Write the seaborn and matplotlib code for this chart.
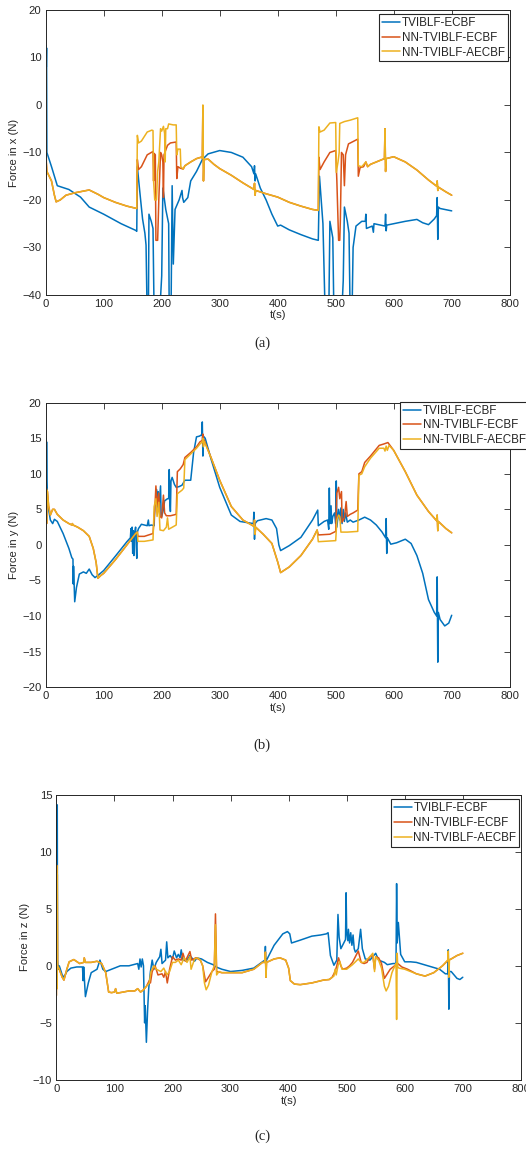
import matplotlib
matplotlib.use("Agg")
import matplotlib.pyplot as plt
import seaborn as sns

# ---- data (t in s, force in N) ----
series_names = ["TVIBLF-ECBF", "NN-TVIBLF-ECBF", "NN-TVIBLF-AECBF"]
series_colors = ["#0072BD", "#D95319", "#EDB120"]

# Force in x
fx_tvi = [(0,-17),(0.5,12.5),(1,8),(1.5,12),(2,-10),(10,-13),(20,-17),(40,-17.8),(60,-19.4),(75,-21.5),
          (100,-23),(130,-25),(155,-26.4),(157,-26.6),(158,-13),(162,-18),(167,-24),(171,-27),(173,-29.5),
          (175,-45),(177,-45),(178,-23),(182,-24.5),(185,-26),(187,-45),(196,-45),(200,-36),(202,-17.5),
          (207,-22),(212,-25),(213,-45),(216,-45),(218,-17),(220,-33.5),(223,-22),(230,-20),(235,-18),
          (236,-19.5),(238,-20.5),(245,-19.5),(250,-16),(260,-14),(270,-11.5),(280,-10.3),(300,-9.6),
          (320,-10),(340,-11),(355,-13),(359,-14.5),(360,-12.8),(361,-16),(362,-14.5),(370,-17.5),
          (380,-20),(390,-23),(400,-25.5),(405,-25.3),(420,-26.3),(440,-27.3),(460,-28.2),(470,-28.5),
          (472,-15),(478,-25),(482,-45),(488,-45),(490,-24.5),(495,-28),(497,-45),(510,-45),(513,-37),
          (515,-21.5),(520,-24.5),(523,-27),(525,-45),(528,-45),(530,-30),(535,-25.5),(545,-24.5),
          (551,-24.5),(552,-23),(553,-26),(557,-25.8),(563,-25.5),(565,-26.8),(566,-25),(585,-25.5),
          (586,-23),(587,-26.5),(588,-25.3),(600,-25),(620,-24.5),(640,-24.1),(650,-24.8),(660,-25.2),
          (670,-24),(674,-23.3),(675,-19.5),(676,-28.3),(677,-21.5),(680,-21.8),(700,-22.3)]
fx_nn = [(0,-17),(0.5,7.5),(1,-12),(2,-14),(10,-16),(15,-19),(18,-20.4),(25,-20),(35,-19),(50,-18.5),
         (75,-17.9),(90,-18.8),(100,-19.5),(120,-20.5),(140,-21.3),(157,-21.8),(158,-11.5),(160,-13.6),
         (165,-13),(175,-10.5),(185,-9.8),(186,-16),(187,-10.2),(189,-10.5),(190,-28.5),(193,-28.5),
         (195,-20),(198,-10),(200,-10.5),(202,-12),(203,-19.5),(204,-10.5),(210,-8.5),(215,-8),
         (225,-7.8),(226,-15.5),(228,-13),(232,-13.3),(237,-13.5),(240,-12.8),(250,-12),(260,-11.3),
         (268,-11),(270,-11.2),(271,-0.2),(272,-16),(273,-11.5),(280,-11.4),(290,-12.5),(300,-13.4),
         (320,-14.8),(340,-16.4),(355,-17.5),(359,-17.8),(360,-16.5),(361,-19),(362,-18),(380,-18.7),
         (400,-19.4),(420,-20.5),(440,-21.3),(460,-22),(470,-22.2),(471,-11),(473,-13.6),(480,-12),
         (490,-10),(500,-9.6),(502,-16),(505,-28.5),(507,-28.5),(508,-24.5),(510,-10),(513,-10.5),
         (515,-17),(517,-10.5),(522,-8.2),(530,-7.7),(538,-7.2),(539,-15),(542,-13.2),(548,-13),
         (552,-12),(555,-13),(560,-12.5),(570,-12),(580,-11.5),(584,-11.3),(585,-5),(586,-14),
         (587,-11.3),(600,-10.9),(620,-12),(640,-13.7),(660,-15.8),(674,-17.1),(675,-16),(676,-18),
         (677,-17.3),(690,-18.3),(700,-19)]
fx_nna = [(0,-17),(0.5,7.5),(1,-12),(2,-14),(10,-16),(15,-19),(18,-20.4),(25,-20),(35,-19),(50,-18.5),
          (75,-17.9),(90,-18.8),(100,-19.5),(120,-20.5),(140,-21.3),(157,-21.8),(158,-6.4),(160,-8),
          (165,-7.6),(175,-5.7),(183,-5.3),(185,-5.4),(186,-16),(188,-20),(191,-20),(193,-14),(195,-12),
          (198,-5),(200,-5.5),(203,-4.5),(205,-6),(206,-12),(207,-5),(210,-5),(212,-4),(220,-4.2),
          (225,-4.2),(226,-10.5),(228,-9.3),(232,-9.3),(233,-13),(237,-13.5),(240,-12.8),(250,-12),
          (260,-11.3),(268,-11),(270,-11.2),(271,0),(272,-16),(273,-11.5),(280,-11.4),(290,-12.5),
          (300,-13.4),(320,-14.8),(340,-16.4),(355,-17.5),(359,-17.8),(360,-16.5),(361,-19),(362,-18),
          (380,-18.7),(400,-19.4),(420,-20.5),(440,-21.3),(460,-22),(470,-22.2),(471,-4.6),(473,-5.7),
          (480,-5.3),(490,-3.8),(500,-3.7),(501,-14.2),(504,-12),(506,-10),(507,-3.9),(515,-3.5),
          (525,-3.2),(538,-2.7),(539,-12.8),(545,-13),(552,-12),(555,-13),(560,-12.5),(570,-12),
          (580,-11.5),(584,-11.3),(585,-5),(586,-14),(587,-11.3),(600,-10.9),(620,-12),(640,-13.7),
          (660,-15.8),(674,-17.1),(675,-16),(676,-18),(677,-17.3),(690,-18.3),(700,-19)]

# Force in y
fy_tvi = [(0,8),(0.5,15),(1,3),(1.5,14.5),(2,9),(3,6),(5,5),(8,3.5),(12,3),(15,3.6),(20,3.3),(30,1.6),
          (40,-0.5),(45,-1.8),(47,-2),(47.5,-5.5),(48,-3),(50,-8),(53,-6),(58,-4.1),(65,-3.8),(70,-4),
          (75,-3.4),(80,-4.2),(85,-4.6),(90,-4.3),(100,-3.6),(120,-1.6),(140,0.45),(146,1),(147,2.3),
          (148,0.5),(149,2.5),(150,-1.2),(151,2),(152,-1.5),(153,1.5),(155,2.5),(156,0),(157,-1.9),
          (158,1.8),(160,2.3),(165,2.9),(175,2.7),(177,3.5),(178,2.7),(182,2.8),(187,2.7),(188,5.5),
          (190,5.8),(191,7.8),(192,5),(194,7.5),(195,5),(198,8.3),(199,4),(200,4),(203,5),(205,6.2),
          (210,6.5),(212,6.5),(213,10.6),(214,6),(215,4.7),(216,9),(218,9.5),(222,8.5),(225,8.1),
          (230,8.2),(235,8.4),(240,9.1),(250,9.1),(255,13),(260,15.2),(265,15.3),(269,15.5),(270,17.3),
          (271,12.5),(272,15.3),(275,15),(285,12.1),(300,8.1),(320,4.2),(335,3.3),(350,3.1),(358,3),
          (359,4.6),(360,0.8),(361,3),(365,3.4),(380,3.7),(390,3.5),(398,2.3),(402,0),(405,-0.8),
          (420,-0.1),(440,1.06),(460,3.5),(469,4.9),(470,2.7),(480,3.3),(486,3.5),(488,2.2),(489,8),
          (490,3),(492,5.5),(493,3),(495,4),(498,4.5),(500,3),(501,9),(502,2.5),(505,5),(507,3.5),
          (509,5.2),(511,3),(513,5),(515,3.3),(517,4.5),(520,3.2),(525,3.5),(530,3.2),(540,3.5),
          (550,3.9),(560,3.5),(570,2.8),(580,1.8),(586,1),(587,3.7),(588,-1.2),(589,1),(595,0.1),
          (605,0.3),(620,0.8),(630,0.2),(640,-1.5),(650,-4),(660,-7.7),(670,-9.5),(674,-10),(675,-4.5),
          (676,-16.5),(677,-9.5),(680,-10.5),(688,-11.4),(695,-11),(700,-9.9)]
fy_nn = [(0,8.5),(0.5,3),(1,8),(1.5,3),(2,7.7),(3,7.5),(5,5.5),(8,4.2),(12,5),(15,5),(20,4.3),(30,3.5),
         (40,3),(45,2.8),(46,3),(47,2.8),(55,2.5),(65,2),(75,1.2),(82,-0.5),(87,-2.5),(90,-4.7),(95,-4.3),
         (100,-4),(120,-2.1),(140,0),(155,1.6),(158,1.8),(159,1.2),(170,1.2),(185,1.6),(188,4.8),
         (190,8.3),(192,5.5),(195,7.3),(197,4),(200,3.8),(203,7),(205,4.5),(208,4.1),(215,4.1),
         (220,4.2),(225,4.3),(227,10.3),(232,10.7),(237,11.3),(240,12.3),(250,13),(260,13.8),(266,14.5),
         (270,14.7),(271,15.6),(272,14),(273,14.8),(285,12.3),(300,9.1),(320,5.4),(340,3.5),(355,2.8),
         (359,2.6),(360,3.5),(361,1.5),(362,2.5),(375,1.5),(390,0.2),(400,-2.4),(405,-3.9),(420,-3.1),
         (440,-1.5),(460,0.8),(468,2.1),(470,1.4),(490,1.5),(500,1.9),(502,7.3),(505,8.1),(507,6.5),
         (510,7.5),(511,3.2),(515,3.8),(518,6.1),(520,4),(525,4.3),(530,4.5),(538,4.9),(540,10),
         (545,10.3),(550,11.6),(560,12.5),(575,14),(583,14.2),(590,14.4),(600,13.3),(620,10.3),(640,7),
         (660,4.7),(674,3.4),(675,4.2),(676,2),(677,3.3),(690,2.3),(700,1.7)]
fy_nna = [(0,8.5),(0.5,3),(1,8),(1.5,3),(2,7.7),(3,7.5),(5,5.5),(8,4.2),(12,5),(15,5),(20,4.3),(30,3.5),
          (40,3),(45,2.8),(46,3),(47,2.8),(55,2.5),(65,2),(75,1.2),(82,-0.5),(87,-2.5),(90,-4.7),(95,-4.3),
          (100,-4),(120,-2.1),(140,0),(155,1.6),(158,1.8),(159,0.5),(170,0.5),(185,0.7),(187,5.4),
          (190,6.5),(192,4),(195,6),(197,2.1),(203,2),(208,2.5),(210,3.8),(212,2.2),(225,2.8),(227,7.2),
          (235,7.7),(238,8),(240,12),(250,12.8),(260,13.6),(266,14.2),(270,14.5),(271,15),(272,13.8),
          (273,14.6),(285,12.3),(300,9.1),(320,5.4),(340,3.5),(355,2.8),(359,2.6),(360,3.5),(361,1.5),
          (362,2.5),(375,1.5),(390,0.2),(400,-2.4),(405,-3.9),(420,-3.1),(440,-1.5),(460,0.8),(468,2.1),
          (470,0.45),(500,0.6),(502,3.5),(505,4.2),(507,4),(509,1.8),(520,1.8),(538,1.9),(540,9.8),
          (545,10),(550,11),(560,12.2),(575,13.6),(583,13.6),(585,13.2),(587,13.9),(589,13.3),(592,14),
          (600,13.3),(620,10.3),(640,7),(660,4.7),(674,3.4),(675,4.2),(676,2),(677,3.3),(690,2.3),(700,1.7)]

# Force in z
fz_tvi = [(0,0),(0.5,14),(1,9),(1.5,14.1),(2,0.5),(3,-0.3),(5,0),(10,-0.8),(13,-1),(18,-0.5),(25,-0.2),
          (35,-0.1),(45,-0.1),(46,-1.3),(47,-0.1),(50,-2.7),(55,-1.5),(60,-0.6),(70,-0.3),(75,0.5),
          (80,-0.3),(85,-0.5),(95,-0.3),(110,0),(125,0),(140,0.2),(142,-0.3),(144,0.6),(146,-0.1),
          (148,0.6),(150,0),(152,-5),(153,-3.5),(155,-6.7),(157,-4),(159,-2),(162,-0.5),(165,0.5),
          (168,-0.3),(172,0.3),(178,0.8),(180,1.45),(182,0.2),(188,0.5),(190,2.1),(192,0.7),(196,0.9),
          (200,0.6),(203,1.3),(207,0.7),(210,1),(213,0.7),(215,1.4),(218,0.5),(225,0.5),(230,0.9),
          (238,0.4),(242,0.7),(250,0.6),(260,0.3),(270,0.1),(275,-0.1),(285,-0.3),(300,-0.5),(320,-0.4),
          (340,-0.2),(355,0.35),(359,0.5),(360,1.7),(361,0),(362,0.5),(375,1.8),(390,2.8),(398,3),
          (402,2.8),(405,2),(420,2.25),(440,2.6),(455,2.7),(465,2.8),(468,2.9),(472,0.9),(478,0.05),
          (483,0.5),(485,4.5),(487,2.5),(490,1.5),(495,2),(498,2.3),(499,6.4),(500,3),(502,2.2),(503,3.2),
          (505,2),(507,2.9),(509,1.8),(511,2.7),(513,1.5),(515,1.2),(520,1.5),(524,3.2),(527,1.5),
          (532,0.6),(540,0.5),(545,0.8),(550,1.1),(555,0.5),(565,0.3),(570,0.1),(580,0.2),(585,0.2),
          (586,7.2),(587,2),(589,3.8),(593,1),(600,0.35),(610,0.35),(620,0.3),(640,0),(660,-0.3),
          (670,-0.7),(674,-0.7),(675,1.4),(676,-3.8),(677,-0.5),(680,-0.5),(690,-1.1),(695,-1.2),(700,-1)]
fz_nn = [(0,-2.6),(0.5,8.8),(1,-2),(1.5,8),(2,0),(5,-0.3),(10,-1),(13,-1.25),(18,-0.3),(22,0.35),
         (30,0.55),(40,0.2),(47,0.3),(48,0.7),(50,0.3),(60,0.3),(70,0.4),(78,0.2),(85,-0.6),(90,-2.3),
         (95,-2.35),(100,-2.3),(102,-2),(104,-2.4),(115,-2.3),(125,-2.2),(135,-2.2),(140,-2),(145,-2.3),
         (150,-2.1),(155,-1.8),(160,-1.3),(162,-1.5),(165,-0.5),(170,0),(175,-0.8),(182,-0.7),(185,-1),
         (188,-0.5),(191,-1.5),(195,-0.3),(200,0.8),(205,0.5),(210,0.6),(215,0.5),(218,1.1),(222,0.4),
         (230,1.25),(233,0.5),(240,0.7),(248,0.5),(252,0),(257,-1.4),(262,-1),(268,-0.5),(272,-0.3),
         (274,4.55),(276,-0.5),(285,-0.6),(300,-0.6),(320,-0.6),(340,-0.3),(355,0.3),(359,0.3),(360,1.2),
         (361,-1),(362,0.3),(375,0.6),(385,0.7),(395,0.5),(400,-0.2),(403,-1.3),(410,-1.6),(420,-1.65),
         (440,-1.5),(460,-1.25),(470,-1.2),(475,-1),(480,-0.5),(483,0),(486,0.7),(490,0),(493,-0.3),
         (500,-0.2),(505,0),(510,0.3),(515,0.8),(520,1.3),(525,0.3),(530,0.2),(535,0.3),(540,0.8),
         (545,0.9),(548,-0.3),(550,0.8),(555,0.7),(560,0.2),(565,-1.1),(570,-0.7),(575,-0.3),(580,-0.1),
         (585,0.1),(588,0.2),(595,-0.1),(605,-0.3),(620,-0.7),(635,-0.9),(650,-0.6),(665,0),(675,0.5),
         (680,0.6),(690,0.9),(700,1.1)]
fz_nna = [(0,-2.6),(0.5,8.8),(1,-2),(1.5,8),(2,0),(5,-0.3),(10,-1),(13,-1.25),(18,-0.3),(22,0.35),
          (30,0.55),(40,0.2),(47,0.3),(48,0.7),(50,0.3),(60,0.3),(70,0.4),(78,0.2),(85,-0.6),(90,-2.3),
          (95,-2.35),(100,-2.3),(102,-2),(104,-2.4),(115,-2.3),(125,-2.2),(135,-2.2),(140,-2),(145,-2.3),
          (150,-2.1),(155,-1.8),(160,-1.5),(163,-0.5),(168,0),(172,-0.3),(180,-0.5),(185,-0.2),(190,-0.8),
          (195,-0.5),(200,0.3),(205,0.3),(210,0.5),(215,0.1),(220,0.7),(225,0.3),(230,0.8),(232,-0.3),
          (238,0.6),(243,0.7),(248,0.5),(252,0),(255,-1.5),(258,-2.1),(262,-1.7),(268,-0.5),(272,0),
          (274,3.6),(276,-0.8),(280,-0.5),(285,-0.6),(300,-0.6),(320,-0.6),(340,-0.3),(355,0.3),(359,0.3),
          (360,1.2),(361,-1),(362,0.3),(375,0.6),(385,0.7),(395,0.5),(400,-0.2),(403,-1.3),(410,-1.6),
          (420,-1.65),(440,-1.5),(460,-1.25),(470,-1.2),(478,-0.9),(480,-0.3),(482,-0.8),(485,0),(488,0.4),
          (492,-0.3),(500,-0.3),(510,0.1),(520,0.6),(525,0.3),(530,0.3),(540,0.8),(545,1.1),(548,-0.5),
          (550,0.8),(555,0.5),(560,-0.2),(565,-1.8),(568,-2.2),(572,-1.8),(578,-0.6),(583,0),(585,0.2),
          (586,-4.7),(587,1.1),(588,-0.1),(590,-0.2),(600,-0.3),(620,-0.7),(635,-0.9),(650,-0.6),(665,0),
          (674,0.5),(675,1.3),(676,-1),(677,0.5),(680,0.6),(690,0.9),(700,1.1)]

panels = [
    dict(data=[fx_tvi, fx_nn, fx_nna], ylabel="Force in x (N)", ylim=(-40, 20), ystep=10,
         rect=[0.0869, 0.7453, 0.8821, 0.2461], leg=(0.7205, 0.9879), cap="(a)", capy=0.7038),
    dict(data=[fy_tvi, fy_nn, fy_nna], ylabel="Force in y (N)", ylim=(-20, 20), ystep=5,
         rect=[0.0869, 0.4067, 0.8821, 0.2455], leg=(0.7605, 0.6531), cap="(b)", capy=0.3567),
    dict(data=[fz_tvi, fz_nn, fz_nna], ylabel="Force in z (N)", ylim=(-10, 15), ystep=5,
         rect=[0.1072, 0.0674, 0.8830, 0.2464], leg=(0.7428, 0.3098), cap="(c)", capy=0.0190),
]

sns.set_style("white")
plt.rcParams["font.family"] = ["Liberation Sans", "DejaVu Sans"]

fig = plt.figure(figsize=(5.26, 11.58), dpi=100)
fs = 8.1

for p in panels:
    ax = fig.add_axes(p["rect"])
    for pts, name, col in zip(p["data"], series_names, series_colors):
        t = [a for a, b in pts]
        v = [b for a, b in pts]
        sns.lineplot(x=t, y=v, ax=ax, color=col, linewidth=1.1, estimator=None, sort=False, label=name)
    ax.set_xlim(0, 800)
    ax.set_ylim(*p["ylim"])
    ax.set_xticks(range(0, 801, 100))
    lo, hi = p["ylim"]
    ax.set_yticks(range(lo, hi + 1, p["ystep"]))
    ax.tick_params(direction="in", top=True, right=True, length=4, width=0.6,
                   labelsize=fs, colors="#262626", pad=3)
    for s in ax.spines.values():
        s.set_color("#262626")
        s.set_linewidth(0.7)
    ax.set_xlabel("t(s)", fontsize=fs, color="#262626", labelpad=1)
    ax.set_ylabel(p["ylabel"], fontsize=fs, color="#262626", labelpad=2)
    leg = ax.legend(loc="upper left", bbox_to_anchor=p["leg"], bbox_transform=fig.transFigure,
                    fontsize=8.4, frameon=True, fancybox=False, borderpad=0.25, borderaxespad=0,
                    handlelength=1.55, handletextpad=0.15, labelspacing=0.24, framealpha=1)
    leg.get_frame().set_edgecolor("#262626")
    leg.get_frame().set_linewidth(0.8)
    fig.text(0.4985, p["capy"], p["cap"], ha="center", va="center", fontsize=10.5,
             family=["Liberation Serif", "DejaVu Serif"])

fig.savefig("out.png", dpi=100)
